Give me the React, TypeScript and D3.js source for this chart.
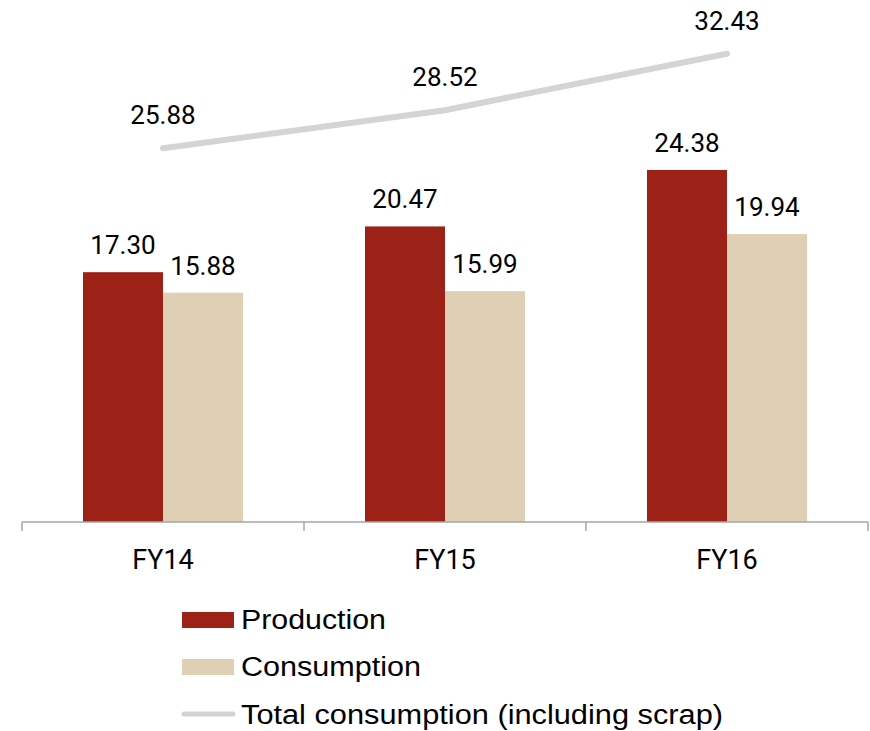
import * as React from 'react';
import * as d3 from 'd3';

const categories = ['FY14', 'FY15', 'FY16'];
const production = [17.3, 20.47, 24.38];
const consumption = [15.88, 15.99, 19.94];
const totalConsumption = [25.88, 28.52, 32.43];
const seriesNames = ['Production', 'Consumption'];
const legendLabels = ['Production', 'Consumption', 'Total consumption (including scrap)'];

const COLORS = {
  production: '#9c2116',
  consumption: '#dfcfb4',
  total: '#d4d4d4',
  axis: '#a6a6a6',
};

const W = 870;
const H = 731;
const NUM_FONT = 'Roboto, "Liberation Sans", sans-serif';
const LEGEND_FONT = '"Liberation Sans", Arial, sans-serif';

export default function App() {
  const x = d3.scaleBand<string>().domain(categories).range([22, 868]);
  const inner = d3.scaleBand<string>().domain(seriesNames).range([61, 221]);
  const y = d3.scaleLinear().domain([0, 36]).range([522, 522 - 36 * 14.44]);

  const center = (c: string) => (x(c) as number) + x.bandwidth() / 2;

  const line = d3.line<number>()
    .x((_, i) => center(categories[i]))
    .y((d) => y(d));

  const ticks = [...categories.map((c) => x(c) as number), 868];

  const barData = [
    { name: 'Production', values: production, color: COLORS.production },
    { name: 'Consumption', values: consumption, color: COLORS.consumption },
  ];

  // legend rows: swatch kind, text baseline, text width in the original
  const legendRows = [
    { kind: 'rect', color: COLORS.production, baseline: 629, width: 145 },
    { kind: 'rect', color: COLORS.consumption, baseline: 676, width: 180 },
    { kind: 'line', color: COLORS.total, baseline: 724, width: 482 },
  ];

  return (
    <svg width={W} height={H} style={{ position: 'absolute', left: 0, top: 0, background: '#fff' }}>
      {barData.map((s) => (
        <g key={s.name}>
          {s.values.map((v, i) => {
            const bx = (x(categories[i]) as number) + (inner(s.name) as number);
            return (
              <g key={i}>
                <rect x={bx} y={y(v)} width={inner.bandwidth()} height={y(0) - y(v)} fill={s.color} />
                <text
                  x={bx + inner.bandwidth() / 2}
                  y={y(v) - 18}
                  textAnchor="middle"
                  fontFamily={NUM_FONT}
                  fontSize={26}
                  fill="#000"
                >
                  {v.toFixed(2)}
                </text>
              </g>
            );
          })}
        </g>
      ))}

      <path d={line(totalConsumption) || ''} fill="none" stroke={COLORS.total} strokeWidth={6} strokeLinecap="round" />
      {totalConsumption.map((v, i) => (
        <text
          key={i}
          x={center(categories[i])}
          y={y(v) - 24}
          textAnchor="middle"
          fontFamily={NUM_FONT}
          fontSize={26}
          fill="#000"
        >
          {v.toFixed(2)}
        </text>
      ))}

      <line x1={22} x2={868} y1={y(0)} y2={y(0)} stroke={COLORS.axis} strokeWidth={1.5} />
      {ticks.map((t, i) => (
        <line key={i} x1={t} x2={t} y1={y(0)} y2={y(0) + 9} stroke={COLORS.axis} strokeWidth={1.5} />
      ))}
      {categories.map((c) => (
        <text key={c} x={center(c)} y={569} textAnchor="middle" fontFamily={NUM_FONT} fontSize={27} fill="#000">
          {c}
        </text>
      ))}

      <g fontFamily={LEGEND_FONT} fontSize={27} fill="#000">
        {legendRows.map((r, i) => (
          <g key={i}>
            {r.kind === 'rect' ? (
              <rect x={182} y={r.baseline - 17} width={52} height={16} fill={r.color} />
            ) : (
              <line x1={184} x2={233} y1={r.baseline - 10} y2={r.baseline - 10} stroke={r.color} strokeWidth={5} strokeLinecap="round" />
            )}
            <text x={241} y={r.baseline} textLength={r.width} lengthAdjust="spacingAndGlyphs">
              {legendLabels[i]}
            </text>
          </g>
        ))}
      </g>
    </svg>
  );
}
